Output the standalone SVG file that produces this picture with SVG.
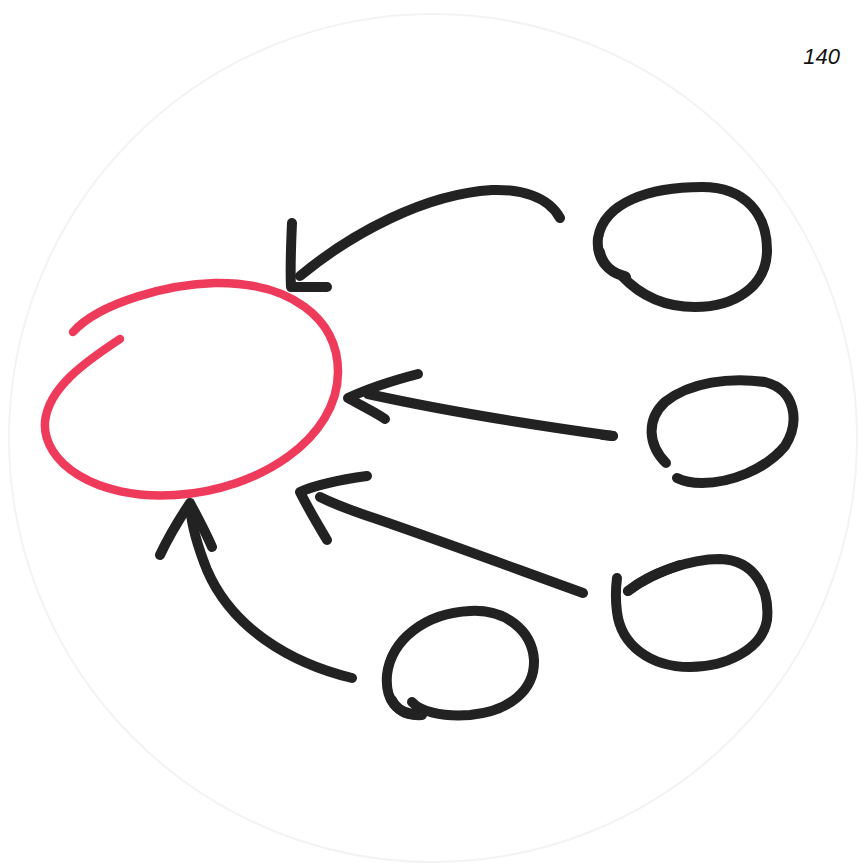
<svg xmlns="http://www.w3.org/2000/svg" width="866" height="864" viewBox="0 0 866 864">
  <style>
    .ink { fill: none; stroke: #222222; stroke-width: 10; stroke-linecap: round; stroke-linejoin: round; }
    .red { fill: none; stroke: #ef3b5b; stroke-width: 8.5; stroke-linecap: round; stroke-linejoin: round; }
    .label { font-family: "Liberation Sans", Arial, sans-serif; font-style: italic; font-size: 22px; fill: #111111; }
  </style>
  <rect x="0" y="0" width="866" height="864" fill="#ffffff"/>
  <circle cx="433" cy="438" r="424" fill="none" stroke="#f3f3f3" stroke-width="2"/>
  <text class="label" x="840" y="64" text-anchor="end">140</text>

  <g id="target">
    <path class="red" d="M73,332 C100,302 170,284 215,283 C290,282 338,318 338,372 C338,438 260,490 175,495 C95,500 42,462 45,422 C48,388 85,362 120,339"/>
  </g>

  <g id="source-1">
    <path class="ink" d="M626,277 C606,272 596,258 598,238 C604,202 650,187 702,187 C746,187 767,215 767,250 C767,286 735,307 695,307 C660,307 637,292 622,276"/>
    <path class="ink" stroke-width="14" d="M600,252 C603,265 612,273 625,276"/>
  </g>

  <g id="source-2">
    <path class="ink" d="M666,463 C648,445 646,420 665,402 C690,382 730,377 765,382 C796,390 800,422 785,446 C765,470 730,483 702,483 C690,483 683,481 677,478"/>
  </g>

  <g id="source-3">
    <path class="ink" d="M628,591 C650,573 690,559 720,559 C755,560 770,590 767,620 C762,650 725,667 690,667 C650,667 621,645 617,612 C615,597 616,586 617,578"/>
    <path class="ink" stroke-width="13" d="M628,591 C645,578 665,570 680,565"/>
  </g>

  <g id="source-4">
    <path class="ink" d="M412,702 C420,711 440,717 470,715 C510,711 535,690 534,660 C532,630 505,609 470,611 C425,613 391,640 387,675 C385,700 396,714 420,715"/>
    <path class="ink" stroke-width="13" d="M392,700 C398,712 408,716 422,715"/>
  </g>

  <g id="connectors">
    <path class="ink" d="M560,218 C548,196 520,189 492,190 C425,194 352,233 300,276"/>
    <path class="ink" stroke-width="11" d="M292,223 C291,245 290,268 291,287 L327,287"/>
    <path class="ink" d="M613,436 C540,426 450,412 368,394"/>
    <path class="ink" stroke-width="13" d="M603,435 L613,436"/>
    <path class="ink" stroke-width="11" d="M418,374 C395,380 365,390 348,398 C360,405 375,412 385,419"/>
    <path class="ink" d="M583,593 C500,563 425,535 362,514 C342,507 330,502 320,497"/>
    <path class="ink" stroke-width="11" d="M367,476 C345,479 318,484 300,492 C308,508 318,525 327,540"/>
    <path class="ink" d="M352,678 C290,663 232,628 207,570 C197,545 191,522 190,505"/>
    <path class="ink" stroke-width="11" d="M160,555 C168,538 180,518 190,503 C198,518 206,533 212,547"/>
  </g>
</svg>
